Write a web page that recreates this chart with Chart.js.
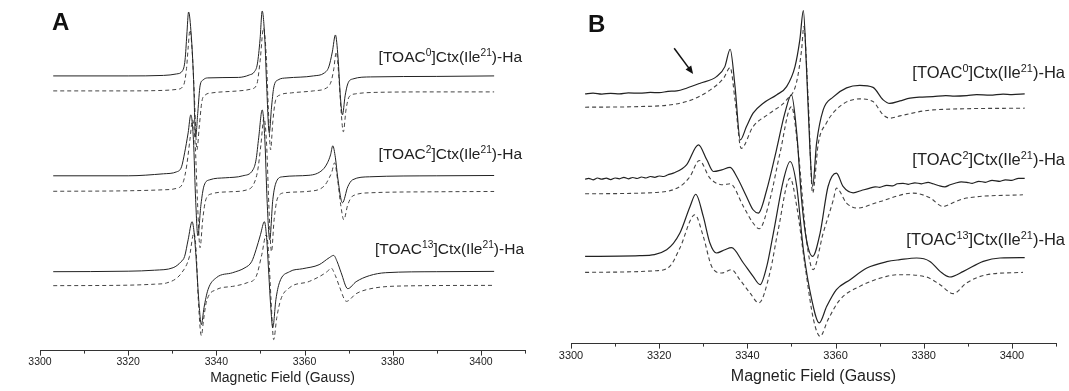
<!DOCTYPE html>
<html lang="en">
<head>
  <meta charset="UTF-8" />
  <title>EPR spectra</title>
  <style>
    body {
      margin: 0;
      background: #fff;
      font-family: "Liberation Sans", Arial, sans-serif;
      color: #222;
    }
    .wrap { position: relative; width: 1069px; height: 391px; overflow: hidden; }
    .panel { position: absolute; top: 0; height: 391px; }
    #panelA { left: 0; width: 535px; }
    #panelB { left: 535px; width: 534px; }
    .letter { position: absolute; font-weight: bold; font-size: 24px; line-height: 1; color: #111; }
    .lab { position: absolute; line-height: 1; white-space: nowrap; color: #222; }
    .lab sup { font-size: 66%; line-height: 0; vertical-align: 0.55em; }
    #panelA .lab { font-size: 15.5px; right: 13px; }
    #panelB .lab { font-size: 16.5px; right: 4px; }
  </style>
  <script src="https://cdn.jsdelivr.net/npm/chart.js"></script>
</head>
<body>
<div class="wrap">
  <div class="panel" id="panelA">
    <canvas id="chartA" width="535" height="391"></canvas>
    <div class="letter" style="left:52px; top:10px;">A</div>
    <div class="lab" style="top:49px;">[TOAC<sup>0</sup>]Ctx(Ile<sup>21</sup>)-Ha</div>
    <div class="lab" style="top:146px;">[TOAC<sup>2</sup>]Ctx(Ile<sup>21</sup>)-Ha</div>
    <div class="lab" style="top:241px; right:11px;">[TOAC<sup>13</sup>]Ctx(Ile<sup>21</sup>)-Ha</div>
  </div>
  <div class="panel" id="panelB">
    <canvas id="chartB" width="534" height="391"></canvas>
    <div class="letter" style="left:53px; top:12px;">B</div>
    <div class="lab" style="top:64px;">[TOAC<sup>0</sup>]Ctx(Ile<sup>21</sup>)-Ha</div>
    <div class="lab" style="top:151px;">[TOAC<sup>2</sup>]Ctx(Ile<sup>21</sup>)-Ha</div>
    <div class="lab" style="top:231px;">[TOAC<sup>13</sup>]Ctx(Ile<sup>21</sup>)-Ha</div>
  </div>
</div>

<script>
  // field (Gauss), signal (arb. units, spectra stacked with offsets)
  // panel A - solid = experimental, dashed = simulated
  const aExp0 = [[3303,275],[3320,275],[3328,275.5],[3331,277],[3332.3,280],[3332.9,291],[3333.3,316],[3333.7,339],[3334.3,316],[3334.8,275],[3335.3,214],[3335.8,239],[3336.3,265],[3337,271],[3338,273],[3345,273.5],[3347.5,276],[3348.6,279],[3349.3,287],[3349.9,311],[3350.4,340],[3351,311],[3351.4,266],[3352,218],[3352.5,243],[3353,263],[3354,271],[3356,273],[3362,275],[3364.5,278],[3365.5,284],[3366.3,299],[3367,316],[3367.6,293],[3368.1,256],[3368.6,236],[3369.2,255],[3369.8,267],[3371,272],[3375,274],[3390,274.5],[3403,275]];
  const aSim0 = [[3303,260],[3320,260],[3328,260.5],[3331,261.5],[3332.5,265],[3333.2,281],[3333.6,303],[3334,321],[3334.5,301],[3335,256],[3335.6,201],[3336.1,223],[3336.7,249],[3337.5,256],[3339,258],[3345,260],[3348,262],[3349.2,267],[3349.9,289],[3350.7,323],[3351.3,296],[3351.8,241],[3352.3,201],[3352.8,229],[3353.4,250],[3354.5,256],[3357,258],[3362,260],[3365,263],[3366,269],[3366.6,281],[3367.2,299],[3367.8,273],[3368.3,239],[3368.8,219],[3369.4,241],[3370.1,254],[3371.5,257],[3376,258.5],[3390,259],[3403,259]];
  const aExp2 = [[3303,175],[3320,175],[3328,177],[3331,179],[3332.1,184],[3332.8,198],[3333.6,218],[3334.2,236],[3334.8,211],[3335.3,151],[3335.8,115],[3336.5,146],[3337.2,165],[3338.5,171],[3342,173],[3346,175],[3348.3,181],[3349,191],[3349.6,213],[3350.4,241],[3351,211],[3351.5,151],[3352.1,111],[3352.8,151],[3353.6,169],[3355,174],[3361,175.5],[3364.1,181],[3365.2,188],[3365.9,196],[3366.4,205],[3367,193],[3367.5,174],[3368.6,148],[3369.8,164],[3370.9,171],[3374.7,174],[3390,175],[3403,175.3]];
  const aSim2 = [[3303,159.5],[3320,160],[3328,161],[3331,162.5],[3332.5,169],[3333.3,186],[3334,211],[3334.6,231],[3335.2,206],[3335.7,151],[3336.3,103],[3336.9,131],[3337.6,151],[3339,157],[3343,159],[3347,161],[3348.5,167],[3349.4,181],[3350.1,206],[3350.8,233],[3351.4,206],[3351.9,146],[3352.5,99],[3353.1,131],[3353.9,153],[3355.5,158],[3361,159.5],[3364.5,165],[3365.6,173],[3366.2,179],[3366.8,188],[3367.5,171],[3368.2,146],[3368.9,131],[3369.8,146],[3371,155],[3375,158],[3390,159],[3403,159.3]];
  const aExp13 = [[3303,79],[3320,79.5],[3326,80.5],[3330.2,83],[3332,89],[3332.8,94.3],[3333.6,111],[3334.5,129],[3335,116],[3335.5,86],[3336,51],[3336.6,26],[3337.2,43],[3338.1,61],[3340,73],[3343.7,78],[3346.5,83],[3348,89],[3349,101],[3350,116],[3350.9,129],[3351.4,113],[3351.9,76],[3352.3,46],[3352.8,23],[3353.5,51],[3354.3,68],[3356.6,79],[3359.6,82],[3363.3,86],[3365.6,93],[3366.6,95.3],[3367.4,89],[3368.3,78],[3369.8,62],[3371.7,69],[3374.7,75],[3378.4,78],[3390,79],[3403,79.3]];
  const aSim13 = [[3303,65],[3320,65.5],[3326,66.5],[3328.7,67.7],[3332.1,77.7],[3333.9,94.3],[3334.9,117.7],[3335.4,101],[3335.9,51],[3336.6,15],[3337.1,31],[3337.7,48],[3340,61],[3343.7,64.3],[3347,68],[3349,74],[3350.3,96],[3351.3,116],[3351.8,101],[3352.4,51],[3353,11],[3353.7,33],[3354.6,51],[3356.6,63],[3361.1,69.3],[3365.2,79.3],[3366,82.7],[3367,75],[3367.9,64.3],[3369.5,49.3],[3371.7,57],[3374.7,61.7],[3382.2,64.7],[3403,65.3]];

  // panel B
  const bExp0 = [[3303.2,250],[3305,250.8],[3307,249.8],[3309,250.6],[3311,250],[3313,251],[3315.6,250.7],[3318,251.5],[3320,251.2],[3322,252.5],[3324,253],[3326.2,255.7],[3329.3,260.7],[3333,267.3],[3334.9,277.3],[3336.1,294.7],[3337.2,257.3],[3338.4,204],[3339.8,217.3],[3341.3,230.7],[3343.6,240.7],[3346.6,249],[3348.9,257.3],[3350.8,277.3],[3351.9,304],[3352.7,333.3],[3353.4,277.3],[3354.2,194],[3354.8,157.3],[3355.7,200.7],[3357.2,234],[3359.5,247],[3362.5,256],[3365.5,258.5],[3368.5,256.5],[3370.8,244],[3372.3,240.5],[3374.6,243],[3376.9,245.7],[3379,246.8],[3382.1,247.3],[3385,248.3],[3387,247.8],[3389.8,248.3],[3392,249.2],[3395,248.7],[3398,249.8],[3400,249.3],[3402.9,250]];
  const bSim0 = [[3303.2,236.7],[3315.6,237.3],[3326.2,242.3],[3331.6,254],[3334.6,265.7],[3336.1,276.3],[3337.2,244],[3338.6,195.5],[3341.3,217.3],[3345.1,230.7],[3348.9,244],[3351.1,260.7],[3352.3,294],[3352.8,317.3],[3353.8,244],[3354.8,150.7],[3356.1,200.7],[3357.9,220.7],[3360.9,237.3],[3365.5,245],[3368.5,242.3],[3370.8,229],[3372.3,225.7],[3374.6,228],[3382.1,234],[3402.9,235.7]];
  const bExp2 = [[3303.2,164.5],[3304,165.5],[3305,164],[3306,165.8],[3307,164.6],[3308,165.6],[3309,164.2],[3310,165.8],[3311,165],[3312,166.5],[3313,165],[3314,166.3],[3315,165.3],[3316,166.8],[3317,165.8],[3318,167.3],[3319,166.5],[3320,167.8],[3321,167.3],[3322,169],[3323.2,170.7],[3326.2,179],[3328.9,199],[3330.8,184],[3332.3,172.3],[3334.2,174],[3336.1,176.5],[3337.6,167],[3339.8,147.3],[3341.3,134],[3342.5,130.7],[3344.4,154],[3346.6,194],[3348.5,230.7],[3350,249],[3351.2,210.7],[3352.3,144],[3353.4,104],[3354.8,87.3],[3356.5,110.7],[3358.3,157.3],[3360.2,170.7],[3361.7,157.3],[3364,151],[3366,153.5],[3367.8,155.7],[3369,157],[3370,156.5],[3371.6,158.5],[3373,158],[3374,160],[3375.3,160.5],[3376.5,159.5],[3378,161],[3379.5,160],[3381,161.5],[3382.1,160],[3383.5,158],[3384.8,157],[3386,159],[3387.1,160.5],[3388.5,162],[3389.8,161.5],[3391,160.5],[3392.5,162.5],[3394,161.5],[3395.5,163.5],[3397.3,162.5],[3398.5,164],[3400,163.5],[3401.5,165.5],[3402.9,165.5]];
  const bSim2 = [[3303.2,150],[3319.4,151.3],[3324.7,157.3],[3327,167.3],[3329.1,183.3],[3331.5,165.7],[3334.5,159],[3336.1,160],[3339.1,137.3],[3341.3,120.7],[3342.7,115],[3345.1,144],[3347.4,190.7],[3350,237.3],[3351.5,194],[3353.4,104],[3354.9,74],[3357.2,110.7],[3359.5,144],[3360.2,155.7],[3362.5,140.7],[3364.8,135.7],[3370.1,142.3],[3377.6,150.7],[3381.4,146],[3384.4,137.3],[3387.1,142],[3389.7,145.7],[3402.5,149]];
  const bExp13 = [[3303.2,87.3],[3315.6,88],[3321.7,94],[3324.7,110.7],[3327,137.3],[3328.3,149.5],[3330,127.3],[3331.5,100.7],[3333,90.7],[3334.9,94],[3336.4,96],[3339.1,80.7],[3341.3,67.3],[3342.9,59],[3344.4,77.3],[3345.9,110.7],[3348.2,164],[3349.7,182.3],[3351.2,157.3],[3352.7,94],[3354.6,44],[3356.3,20.7],[3358,37.3],[3360.2,54],[3363.3,64],[3367.1,75.7],[3371.6,82],[3374.6,84],[3378.4,85.7],[3381.4,82.3],[3383.7,72.3],[3385.9,66.7],[3389,72.3],[3393.5,82.3],[3397.3,85.7],[3402.9,86]];
  const bSim13 = [[3303.2,71.3],[3319.4,73],[3322.4,77.3],[3324.7,95.7],[3328.1,129],[3330,107.3],[3331.9,77.3],[3334.2,70.7],[3336.4,74],[3338.3,64],[3340.6,50.7],[3342.6,40.7],[3345.1,70.7],[3347,114],[3349.7,165.7],[3351.2,137.3],[3353.1,77.3],[3355,24],[3356.5,7.3],[3358.3,24],[3361,44],[3365.5,57.3],[3371.6,67.3],[3374.6,69],[3380.6,66.7],[3383.7,59],[3386.7,50],[3389.7,60.7],[3394.3,69],[3402.5,71.3]];

  const fieldMin = 3300;
  const fieldMax = 3410;
  const axisTitle = 'Magnetic Field (Gauss)';
  // arrow in panel B: [field, signal] from -> to
  const arrowB = [[3323.4, 295.7], [3327.7, 270]];

  function toPoints(arr) {
    return arr.map(p => ({ x: p[0], y: p[1] }));
  }

  function line(arr, dashed, width) {
    return {
      data: toPoints(arr),
      borderColor: dashed ? '#444' : '#222',
      borderWidth: width,
      borderDash: dashed ? [4, 3] : [],
      pointRadius: 0,
      fill: false,
      cubicInterpolationMode: 'monotone',
      clip: false
    };
  }

  // minor/major tick marks under the axis line
  const tickMarks = {
    id: 'tickMarks',
    afterDraw(chart) {
      const { ctx, chartArea, scales } = chart;
      ctx.save();
      ctx.strokeStyle = '#333';
      ctx.lineWidth = 1;
      for (let v = fieldMin; v <= fieldMax; v += 10) {
        const x = Math.round(scales.x.getPixelForValue(v)) + 0.5;
        const len = (v % 20 === 0) ? 5 : 3;
        ctx.beginPath();
        ctx.moveTo(x, chartArea.bottom);
        ctx.lineTo(x, chartArea.bottom + len);
        ctx.stroke();
      }
      ctx.restore();
    }
  };

  const arrowPlugin = {
    id: 'arrow',
    afterDatasetsDraw(chart, args, opts) {
      if (!opts.points) return;
      const { ctx, scales } = chart;
      const x1 = scales.x.getPixelForValue(opts.points[0][0]);
      const y1 = scales.y.getPixelForValue(opts.points[0][1]);
      const x2 = scales.x.getPixelForValue(opts.points[1][0]);
      const y2 = scales.y.getPixelForValue(opts.points[1][1]);
      const ang = Math.atan2(y2 - y1, x2 - x1);
      ctx.save();
      ctx.strokeStyle = '#111';
      ctx.fillStyle = '#111';
      ctx.lineWidth = 1.5;
      ctx.beginPath();
      ctx.moveTo(x1, y1);
      ctx.lineTo(x2 - 5 * Math.cos(ang), y2 - 5 * Math.sin(ang));
      ctx.stroke();
      ctx.beginPath();
      ctx.moveTo(x2, y2);
      ctx.lineTo(x2 - 8 * Math.cos(ang) + 3.5 * Math.sin(ang), y2 - 8 * Math.sin(ang) - 3.5 * Math.cos(ang));
      ctx.lineTo(x2 - 8 * Math.cos(ang) - 3.5 * Math.sin(ang), y2 - 8 * Math.sin(ang) + 3.5 * Math.cos(ang));
      ctx.closePath();
      ctx.fill();
      ctx.restore();
    }
  };

  function makeChart(id, datasets, o) {
    return new Chart(document.getElementById(id), {
      type: 'line',
      data: { datasets: datasets },
      options: {
        responsive: false,
        animation: false,
        events: [],
        layout: { padding: o.padding },
        plugins: {
          legend: { display: false },
          tooltip: { enabled: false },
          arrow: { points: o.arrow || null }
        },
        scales: {
          x: {
            type: 'linear',
            min: fieldMin,
            max: fieldMax,
            grid: { display: false, drawTicks: true, tickLength: 5 },
            border: { display: true, color: '#333', width: 1 },
            ticks: {
              stepSize: 10,
              autoSkip: false,
              maxRotation: 0,
              padding: o.tickPad,
              color: '#222',
              font: { family: '"Liberation Sans", Arial, sans-serif', size: o.tickSize },
              callback: v => (v % 20 === 0 && v <= 3400) ? String(v) : ''
            },
            title: {
              display: true,
              text: axisTitle,
              color: '#222',
              padding: { top: o.titlePad, bottom: 0 },
              font: { family: '"Liberation Sans", Arial, sans-serif', size: o.titleSize }
            }
          },
          y: { display: false, min: 0, max: o.yMax }
        }
      },
      plugins: [tickMarks, arrowPlugin]
    });
  }

  makeChart('chartA', [
    line(aExp0, false, 1), line(aSim0, true, 1),
    line(aExp2, false, 1), line(aSim2, true, 1),
    line(aExp13, false, 1), line(aSim13, true, 1)
  ], { padding: { left: 40, right: 10, top: 0, bottom: 4 }, yMax: 351, tickSize: 10.5, tickPad: 0, titleSize: 14, titlePad: 2 });

  makeChart('chartB', [
    line(bExp0, false, 1.2), line(bSim0, true, 1.1),
    line(bExp2, false, 1.2), line(bSim2, true, 1.1),
    line(bExp13, false, 1.2), line(bSim13, true, 1.1)
  ], { padding: { left: 36, right: 13, top: 0, bottom: 5 }, yMax: 344, tickSize: 11, tickPad: 1, titleSize: 16, titlePad: 3, arrow: arrowB });
</script>
</body>
</html>
